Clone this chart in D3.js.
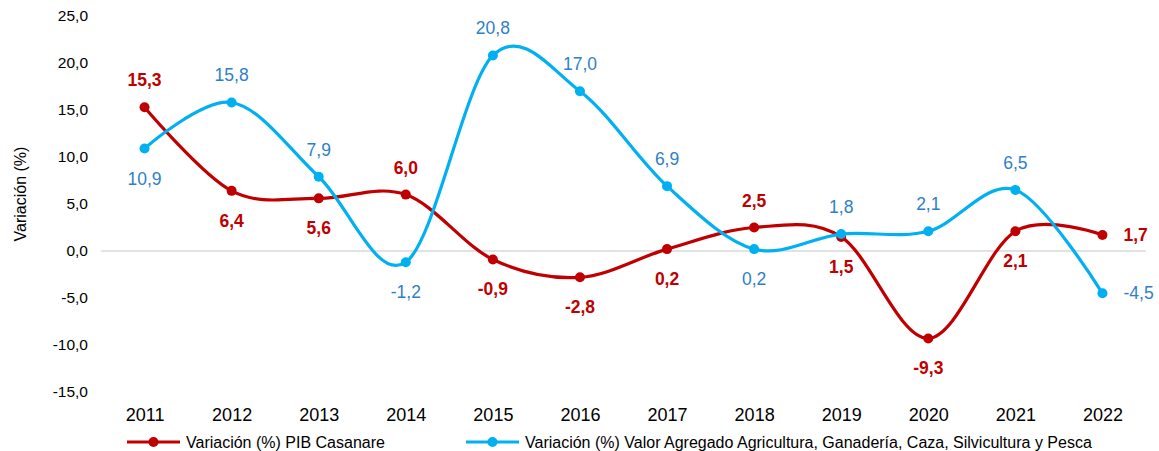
<!DOCTYPE html>
<html>
<head>
<meta charset="utf-8">
<script src="https://cdn.jsdelivr.net/npm/d3@7"></script>
<style>
  body { margin: 0; background: #fff; }
  text { font-family: "Liberation Sans", Arial, sans-serif; }
</style>
</head>
<body>
<script>
var years = ["2011","2012","2013","2014","2015","2016","2017","2018","2019","2020","2021","2022"];
var pib = [15.3, 6.4, 5.6, 6.0, -0.9, -2.8, 0.2, 2.5, 1.5, -9.3, 2.1, 1.7];
var agro = [10.9, 15.8, 7.9, -1.2, 20.8, 17.0, 6.9, 0.2, 1.8, 2.1, 6.5, -4.5];
var yTicks = [-15, -10, -5, 0, 5, 10, 15, 20, 25];
// label placement: a = above, b = below, r = right
var pibPos = ["a","b","b","a","b","b","b","a","b","b","b","r"];
var agroPos = ["b","a","a","b","a","a","a","b","a","a","a","r"];
var names = ["Variación (%) PIB Casanare", "Variación (%) Valor Agregado Agricultura, Ganadería, Caza, Silvicultura y Pesca"];

var w = 1159, h = 451;
var red = "#C00000", blue = "#00B0F0", blueText = "#2E7FC9";

var svg = d3.select("body").append("svg")
    .attr("width", w)
    .attr("height", h);

var xScale = d3.scalePoint()
    .domain(years)
    .range([101, 1146])
    .padding(0.5);
var yScale = d3.scaleLinear()
    .domain([-15, 25])
    .range([392, 16]);

var fmt = function(v) { return d3.format(".1f")(v).replace(".", ",").replace("−", "-"); };

// zero line
svg.append("line")
    .attr("x1", 101).attr("x2", 1146)
    .attr("y1", yScale(0)).attr("y2", yScale(0))
    .attr("stroke", "#d9d9d9").attr("stroke-width", 1.3);

// y axis (labels only)
var yAxis = d3.axisLeft(yScale).tickValues(yTicks).tickSize(0).tickPadding(0).tickFormat(fmt);
var gy = svg.append("g").attr("transform", "translate(88,0)").call(yAxis);
gy.select(".domain").remove();
gy.selectAll("text").attr("font-size", "15.5px").attr("fill", "#000").attr("font-family", "Liberation Sans, Arial, sans-serif");

// x axis (labels only)
var xAxis = d3.axisBottom(xScale).tickSize(0).tickPadding(0);
var gx = svg.append("g").attr("transform", "translate(0,408)").call(xAxis);
gx.select(".domain").remove();
gx.selectAll("text").attr("font-size", "18px").attr("fill", "#000").attr("font-family", "Liberation Sans, Arial, sans-serif");

// y title
svg.append("text")
    .attr("transform", "translate(26,194) rotate(-90)")
    .attr("text-anchor", "middle")
    .attr("font-size", "16px")
    .text("Variación (%)");

var line = d3.line()
    .x(function(d, i) { return xScale(years[i]); })
    .y(function(d) { return yScale(d); })
    .curve(d3.curveCatmullRom.alpha(0));

function drawSeries(vals, color) {
    svg.append("path")
        .datum(vals)
        .attr("d", line)
        .attr("fill", "none")
        .attr("stroke", color)
        .attr("stroke-width", 3.2);
    svg.append("g").selectAll("circle")
        .data(vals)
        .enter()
        .append("circle")
        .attr("cx", function(d, i) { return xScale(years[i]); })
        .attr("cy", function(d) { return yScale(d); })
        .attr("r", 5)
        .attr("fill", color);
}
drawSeries(pib, red);
drawSeries(agro, blue);

function drawLabels(vals, pos, color, weight) {
    svg.append("g").selectAll("text")
        .data(vals)
        .enter()
        .append("text")
        .text(function(d) { return fmt(d); })
        .attr("x", function(d, i) { return pos[i] == "r" ? xScale(years[i]) + 21 : xScale(years[i]); })
        .attr("y", function(d, i) {
            var y = yScale(d);
            if (pos[i] == "a") return y - 21;
            if (pos[i] == "b") return y + 36;
            return y + 6;
        })
        .attr("text-anchor", function(d, i) { return pos[i] == "r" ? "start" : "middle"; })
        .attr("font-size", "17.5px")
        .attr("font-weight", weight)
        .attr("fill", color);
}
drawLabels(pib, pibPos, red, "bold");
drawLabels(agro, agroPos, blueText, "normal");

// legend
var legX = [127, 466];
var legend = svg.append("g").selectAll("g")
    .data(names)
    .enter()
    .append("g")
    .attr("transform", function(d, i) { return "translate(" + legX[i] + ",442)"; });
legend.append("line")
    .attr("x1", 0).attr("x2", 53)
    .attr("stroke", function(d, i) { return i == 0 ? red : blue; })
    .attr("stroke-width", 3.2);
legend.append("circle")
    .attr("cx", 26.5).attr("r", 5)
    .attr("fill", function(d, i) { return i == 0 ? red : blue; });
legend.append("text")
    .attr("x", 59).attr("y", 6)
    .attr("font-size", "16px")
    .text(function(d) { return d; });
</script>
</body>
</html>
